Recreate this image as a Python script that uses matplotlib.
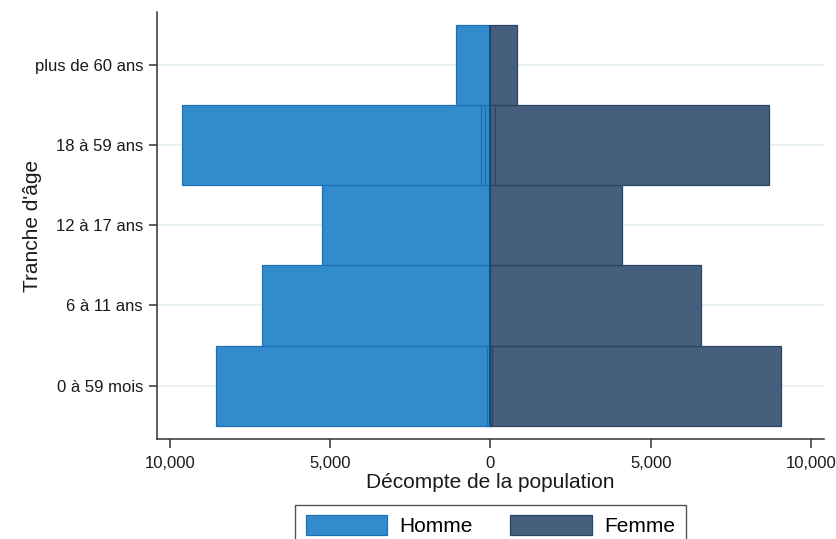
import numpy as np
import matplotlib
matplotlib.use("Agg")
import matplotlib.pyplot as plt

# age groups, bottom to top
categories = ["0 à 59 mois", "6 à 11 ans", "12 à 17 ans", "18 à 59 ans", "plus de 60 ans"]
homme = [8570, 7130, 5240, 9620, 1090]
femme = [9060, 6550, 4110, 8680, 830]
# thin sub-bars visible near the centre line
homme_inner = [100, 0, 0, 290, 0]
homme_inner2 = [0, 0, 0, 160, 0]
femme_inner = [60, 0, 0, 150, 0]

xticks = [-10000, -5000, 0, 5000, 10000]
xticklabels = ["10,000", "5,000", "0", "5,000", "10,000"]

c_homme, e_homme = "#328ccc", "#1d70b6"
c_femme, e_femme = "#465f7d", "#2c4464"

plt.rcParams['font.family'] = ['Liberation Sans', 'DejaVu Sans']

fig = plt.figure(figsize=(8.37, 5.39), dpi=100)
ax = fig.add_axes([157 / 837, 1 - 439 / 539, 667 / 837, 427 / 539])

y = np.arange(len(categories))

ax.barh(y, -np.array(homme), height=1.0, color=c_homme, edgecolor=e_homme,
        linewidth=0.9, label="Homme", zorder=2)
ax.barh(y, femme, height=1.0, color=c_femme, edgecolor=e_femme,
        linewidth=0.9, label="Femme", zorder=2)
ax.barh(y, -np.array(homme_inner), height=1.0, color=c_homme, edgecolor=e_homme,
        linewidth=0.9, zorder=3)
ax.barh(y, -np.array(homme_inner2), height=1.0, color=c_homme, edgecolor=e_homme,
        linewidth=0.9, zorder=3)
ax.barh(y, femme_inner, height=1.0, color=c_femme, edgecolor=e_femme,
        linewidth=0.9, zorder=3)
# darker seam at zero, only where bars are
ax.vlines(np.zeros(len(y)), y - 0.5, y + 0.5, color=e_femme, linewidth=1.4, zorder=4)

ax.set_xlim(-10400, 10400)
ax.set_ylim(-0.665, 4.66)
ax.set_yticks(y)
ax.set_yticklabels(categories)
ax.set_xticks(xticks)
ax.set_xticklabels(xticklabels)
ax.tick_params(axis='both', labelsize=12, width=1.1, color='#333333',
               labelcolor='#1a1a1a')
ax.tick_params(axis='y', length=6, pad=4)
ax.tick_params(axis='x', length=6.5, pad=6)

for yy in y:
    ax.axhline(yy, color='#e6f0f2', linewidth=1.3, zorder=1)

for s in ['top', 'right']:
    ax.spines[s].set_visible(False)
for s in ['left', 'bottom']:
    ax.spines[s].set_linewidth(1.1)
    ax.spines[s].set_color('#333333')

ax.set_xlabel("Décompte de la population", fontsize=15, labelpad=1, color='#1a1a1a')
ax.set_ylabel("Tranche d'âge", fontsize=15, color='#1a1a1a')
ax.yaxis.set_label_coords(-0.172, 0.5)

fig.legend(loc='upper center', bbox_to_anchor=(490.5 / 837, 1 - 505 / 539),
           ncol=2, fontsize=15, frameon=True, fancybox=False, framealpha=1,
           edgecolor='#555555', borderaxespad=0, handlelength=3.9,
           handleheight=1.05, handletextpad=0.6, columnspacing=1.8,
           borderpad=0.5)

fig.savefig("out.png", dpi=100)
